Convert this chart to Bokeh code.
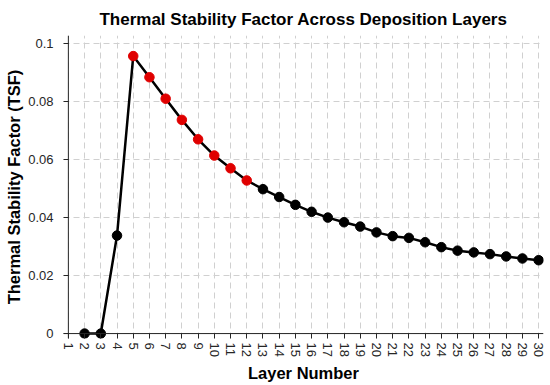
from bokeh.plotting import figure
from bokeh.models import Range1d, FixedTicker, Span
from bokeh.embed import file_html
from bokeh.resources import INLINE

layers = list(range(2, 31))
tsf = [0.0, 0.0, 0.0338, 0.0957, 0.0884, 0.0810, 0.0737, 0.0670, 0.0614, 0.0570,
       0.0528, 0.0498, 0.0471, 0.0444, 0.0420, 0.0400, 0.0384, 0.0369, 0.0349,
       0.0336, 0.0330, 0.0315, 0.0298, 0.0286, 0.0280, 0.0274, 0.0266, 0.0259, 0.0253]
highlight_layers = [5, 6, 7, 8, 9, 10, 11, 12]
x_ticks = list(range(1, 31))
y_ticks = [0, 0.02, 0.04, 0.06, 0.08, 0.1]
y_tick_labels = ["0", "0.02", "0.04", "0.06", "0.08", "0.1"]

FONT = "Liberation Sans"
TXT = "#262626"

# small padding so that markers on the axes are not clipped
p = figure(width=550, height=385, output_backend="svg", toolbar_location=None,
           x_range=Range1d(0.7, 30.3), y_range=Range1d(-0.0017, 0.1028),
           min_border_left=63, min_border_right=7, min_border_top=35, min_border_bottom=47)
p.outline_line_color = None

p.title.text = "Thermal Stability Factor Across Deposition Layers"
p.title.align = "center"
p.title.text_font = FONT
p.title.text_font_size = "17px"
p.title.text_font_style = "bold"
p.title.text_color = "#000000"
p.title.text_line_height = 1.0
p.title.standoff = 14

p.xaxis.ticker = FixedTicker(ticks=x_ticks)
p.yaxis.ticker = FixedTicker(ticks=y_ticks)
p.yaxis.major_label_overrides = {t: l for t, l in zip(y_ticks, y_tick_labels)}
p.xaxis.major_label_orientation = "vertical"

for ax in (p.xaxis, p.yaxis):
    ax.axis_line_color = None
    ax.major_tick_line_color = TXT
    ax.major_tick_out = 0
    ax.major_tick_in = 5
    ax.minor_tick_line_color = None
    ax.major_label_text_font = FONT
    ax.major_label_text_font_size = "13px"
    ax.major_label_text_color = TXT
    ax.axis_label_text_font = FONT
    ax.axis_label_text_font_size = "16.5px"
    ax.axis_label_text_font_style = "bold"
    ax.axis_label_text_color = "#000000"
p.xaxis.major_label_standoff = 4
p.yaxis.major_label_standoff = 10
p.xaxis.axis_label = "Layer Number"
p.yaxis.axis_label = "Thermal Stability Factor (TSF)"
p.xaxis.axis_label_standoff = 4
p.yaxis.axis_label_standoff = 2

for g in (p.xgrid, p.ygrid):
    g.grid_line_color = "#d0d0d0"
    g.grid_line_dash = "6 4"
    g.grid_line_width = 1

p.add_layout(Span(location=0, dimension="width", line_color=TXT, line_width=1))
p.add_layout(Span(location=1, dimension="height", line_color=TXT, line_width=1))

p.line(layers, tsf, line_color="black", line_width=2.5)
hx = [x for x in layers if x in highlight_layers]
hy = [y for x, y in zip(layers, tsf) if x in highlight_layers]
bx = [x for x in layers if x not in highlight_layers]
by = [y for x, y in zip(layers, tsf) if x not in highlight_layers]
p.scatter(bx, by, size=9.5, fill_color="black", line_color="black")
p.scatter(hx, hy, size=9.5, fill_color="#e00000", line_color="#e00000")

open("out.html", "w").write(file_html(p, INLINE))
